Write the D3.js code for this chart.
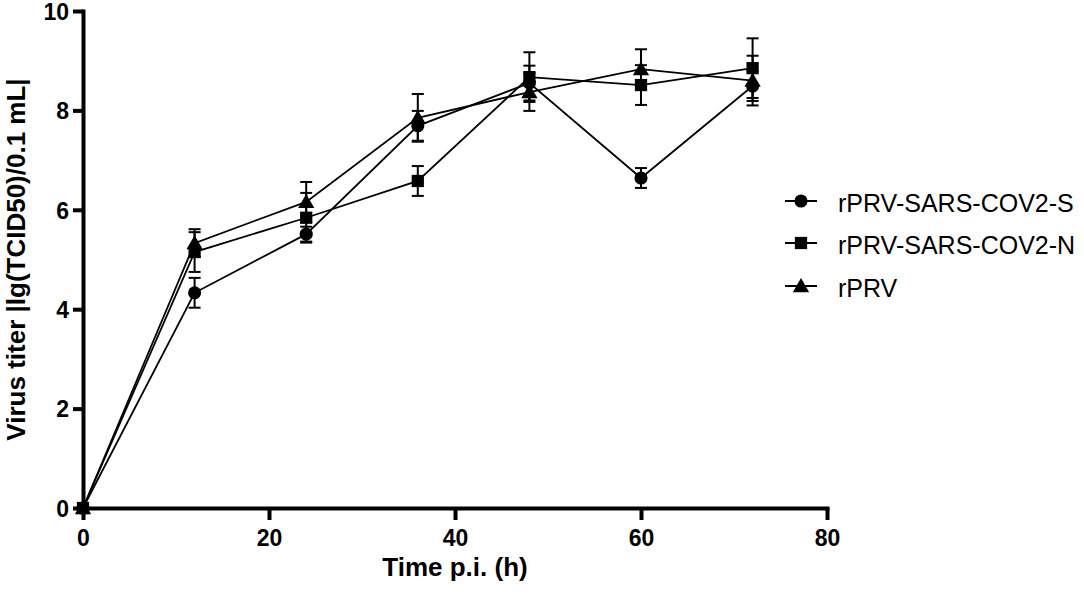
<!DOCTYPE html>
<html>
<head>
<meta charset="utf-8">
<script src="https://cdn.jsdelivr.net/npm/d3@7"></script>
<style>
  html, body { margin: 0; padding: 0; background: #fff; }
  svg { display: block; font-family: "Liberation Sans", Arial, sans-serif; }
</style>
</head>
<body>
<svg id="chart" width="1084" height="596"></svg>
<script>
// ---- data ----
const times = [0, 12, 24, 36, 48, 60, 72];
const seriesNames = ["rPRV-SARS-COV2-S", "rPRV-SARS-COV2-N", "rPRV"];
const sMean = [0, 4.33, 5.51, 7.69, 8.55, 6.64, 8.49];
const sErr  = [0, 0.30, 0.15, 0.30, 0.35, 0.20, 0.30];
const nMean = [0, 5.15, 5.84, 6.58, 8.67, 8.51, 8.85];
const nErr  = [0, 0.40, 0.50, 0.30, 0.50, 0.40, 0.60];
const tMean = [0, 5.33, 6.16, 7.85, 8.37, 8.83, 8.60];
const tErr  = [0, 0.28, 0.40, 0.48, 0.38, 0.40, 0.50];
const xTicks = [0, 20, 40, 60, 80];
const yTicks = [0, 2, 4, 6, 8, 10];

const series = [
  { name: seriesNames[0], mean: sMean, err: sErr, sym: d3.symbolCircle },
  { name: seriesNames[1], mean: nMean, err: nErr, sym: d3.symbolSquare },
  { name: seriesNames[2], mean: tMean, err: tErr, sym: d3.symbolTriangle }
];

const svg = d3.select("#chart");
const x = d3.scaleLinear().domain([0, 80]).range([83, 827]);
const y = d3.scaleLinear().domain([0, 10]).range([508, 11]);

function symbolPath(sym) {
  let size = 135;
  if (sym === d3.symbolSquare) size = 150;
  if (sym === d3.symbolTriangle) size = 115;
  return d3.symbol().type(sym).size(size)();
}

// ---- error bars ----
const capW = 12;
series.forEach(s => {
  const g = svg.append("g").attr("stroke", "#000").attr("stroke-width", 2).attr("fill", "none");
  times.forEach((t, i) => {
    if (s.err[i] <= 0) return;
    const cx = x(t), y1 = y(s.mean[i] + s.err[i]), y0 = y(s.mean[i] - s.err[i]);
    g.append("line").attr("x1", cx).attr("x2", cx).attr("y1", y1).attr("y2", y0);
    g.append("line").attr("x1", cx - capW/2).attr("x2", cx + capW/2).attr("y1", y1).attr("y2", y1);
    g.append("line").attr("x1", cx - capW/2).attr("x2", cx + capW/2).attr("y1", y0).attr("y2", y0);
  });
});

// ---- lines ----
const line = d3.line().x((d, i) => x(times[i])).y(d => y(d));
series.forEach(s => {
  svg.append("path").attr("d", line(s.mean))
    .attr("fill", "none").attr("stroke", "#000").attr("stroke-width", 1.8);
});

// ---- axes ----
const xAxis = d3.axisBottom(x).tickValues(xTicks).tickSize(12).tickSizeOuter(0).tickPadding(10);
const yAxis = d3.axisLeft(y).tickValues(yTicks).tickSize(10).tickSizeOuter(0).tickPadding(4);

const gx = svg.append("g").attr("transform", "translate(0,508)").call(xAxis);
const gy = svg.append("g").attr("transform", "translate(83,0)").call(yAxis);
[gx, gy].forEach(g => {
  g.select(".domain").attr("stroke-width", 4).attr("stroke-linecap", "square");
  g.selectAll(".tick line").attr("stroke-width", 4);
  g.selectAll(".tick text").attr("font-size", 23).attr("font-weight", "bold")
    .attr("font-family", "'Liberation Sans', Arial, sans-serif").attr("fill", "#000");
});
gy.selectAll(".tick text").attr("dy", "0.36em");

// ---- markers (triangles, circles, squares order) ----
[series[2], series[0], series[1]].forEach(s => {
  svg.append("g").selectAll("path").data(s.mean).join("path")
    .attr("d", symbolPath(s.sym))
    .attr("transform", (d, i) => `translate(${x(times[i])},${y(d) + (s.sym === d3.symbolTriangle ? 1.5 : 0)})`)
    .attr("fill", "#000");
});

// ---- axis titles ----
svg.append("text").attr("x", x(40)).attr("y", 576).attr("text-anchor", "middle")
  .attr("font-size", 26).attr("font-weight", "bold").text("Time p.i. (h)");
svg.append("text").attr("transform", `translate(25,${(y(0)+y(10))/2}) rotate(-90)`)
  .attr("text-anchor", "middle").attr("font-size", 26).attr("font-weight", "bold")
  .text("Virus titer |lg(TCID50)/0.1 mL|");

// ---- legend ----
const legY = [201, 243, 286];
series.forEach((s, i) => {
  const g = svg.append("g").attr("transform", `translate(0,${legY[i]})`);
  g.append("line").attr("x1", 785).attr("x2", 817).attr("y1", 0).attr("y2", 0)
    .attr("stroke", "#000").attr("stroke-width", 2);
  g.append("path").attr("d", symbolPath(s.sym))
    .attr("transform", `translate(801,${s.sym === d3.symbolTriangle ? 1.5 : 0})`).attr("fill", "#000");
  g.append("text").attr("x", 838).attr("y", 11).attr("font-size", 25).text(s.name);
});
</script>
</body>
</html>
